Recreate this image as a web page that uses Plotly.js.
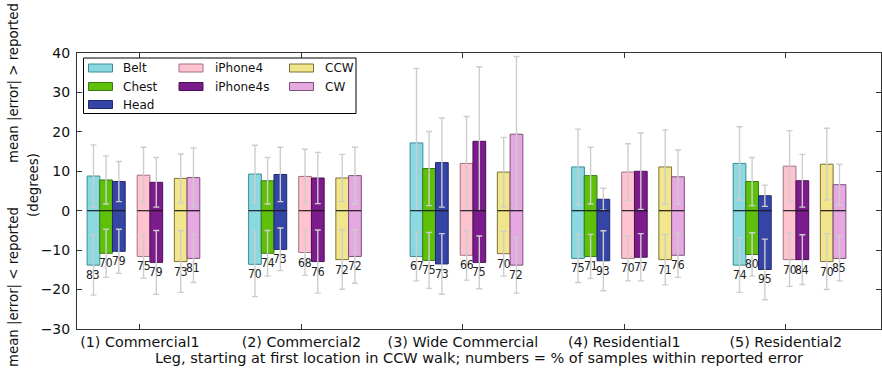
<!DOCTYPE html>
<html>
<head>
<meta charset="utf-8">
<script src="https://cdn.plot.ly/plotly-3.0.1.min.js"></script>
<style>html,body{margin:0;padding:0;background:#fff;}#chart{width:882px;height:378px;}</style>
</head>
<body>
<div id="chart"></div>
<script>
// ---- data ----
const groups = ['(1) Commercial1', '(2) Commercial2', '(3) Wide Commercial', '(4) Residential1', '(5) Residential2'];
const series = ['Belt', 'Chest', 'Head', 'iPhone4', 'iPhone4s', 'CCW', 'CW'];

// mean |error| when error > reported (positive side)
const posBelt     = [8.8, 9.3, 17.2, 11.1, 12.0];
const posChest    = [7.8, 7.6, 10.7, 8.9, 7.4];
const posHead     = [7.4, 9.2, 12.2, 2.9, 3.8];
const posIPhone4  = [9.0, 8.7, 12.0, 9.8, 11.3];
const posIPhone4s = [7.2, 8.3, 17.6, 10.0, 7.6];
const posCCW      = [8.2, 8.3, 9.8, 11.1, 11.8];
const posCW       = [8.4, 8.9, 19.4, 8.6, 6.6];

// spread of the positive side
const posErrBelt     = [7.9, 7.3, 18.9, 9.6, 9.3];
const posErrChest    = [6.1, 5.9, 9.4, 7.2, 6.1];
const posErrHead     = [5.1, 6.9, 11.3, 2.8, 2.7];
const posErrIPhone4  = [7.1, 6.9, 11.9, 7.2, 9.0];
const posErrIPhone4s = [6.3, 6.5, 18.9, 9.7, 6.7];
const posErrCCW      = [6.2, 6.0, 8.8, 9.4, 9.1];
const posErrCW       = [7.5, 7.2, 19.7, 6.8, 5.2];

// mean |error| when error < reported (drawn negative)
const negBelt     = [13.8, 13.6, 11.6, 12.1, 13.8];
const negChest    = [10.8, 10.8, 12.6, 11.6, 11.1];
const negHead     = [10.3, 9.8, 13.5, 12.7, 14.9];
const negIPhone4  = [11.6, 10.6, 11.3, 12.1, 12.4];
const negIPhone4s = [13.1, 12.9, 13.1, 11.8, 12.4];
const negCCW      = [12.9, 12.4, 10.9, 12.4, 12.9];
const negCW       = [12.1, 11.6, 13.8, 11.3, 12.1];

// spread of the negative side
const negErrBelt     = [7.6, 8.2, 6.2, 6.1, 6.9];
const negErrChest    = [6.1, 5.8, 7.1, 5.6, 5.5];
const negErrHead     = [5.6, 5.4, 7.7, 7.6, 7.7];
const negErrIPhone4  = [5.5, 5.8, 6.3, 5.7, 6.8];
const negErrIPhone4s = [8.1, 8.0, 6.7, 6.0, 6.3];
const negErrCCW      = [7.8, 7.5, 5.7, 6.4, 7.1];
const negErrCW       = [6.1, 6.8, 7.1, 5.6, 5.7];

// % of samples within reported error
const pctBelt     = [83, 70, 67, 75, 74];
const pctChest    = [70, 74, 75, 71, 80];
const pctHead     = [79, 73, 73, 93, 95];
const pctIPhone4  = [75, 68, 66, 70, 70];
const pctIPhone4s = [79, 76, 75, 77, 84];
const pctCCW      = [73, 72, 70, 71, 70];
const pctCW       = [81, 72, 72, 76, 85];

// ---- style ----
const fills = ['#8ad9e1', '#5fc00a', '#3445a6', '#ffc2cf', '#7c1c8c', '#f2e68c', '#e6a8e0'];
const edges = ['#3d8c94', '#3a7a12', '#1f2a6e', '#a07482', '#4a1054', '#7e7032', '#7f4f7c'];
const offsets = [-0.287, -0.209, -0.130, 0.023, 0.102, 0.253, 0.332];
const barW = 0.0788;

const posAll = [posBelt, posChest, posHead, posIPhone4, posIPhone4s, posCCW, posCW];
const posErrAll = [posErrBelt, posErrChest, posErrHead, posErrIPhone4, posErrIPhone4s, posErrCCW, posErrCW];
const negAll = [negBelt, negChest, negHead, negIPhone4, negIPhone4s, negCCW, negCW];
const negErrAll = [negErrBelt, negErrChest, negErrHead, negErrIPhone4, negErrIPhone4s, negErrCCW, negErrCW];
const pctAll = [pctBelt, pctChest, pctHead, pctIPhone4, pctIPhone4s, pctCCW, pctCW];

const FONT = 'DejaVu Sans, sans-serif';
const NARROW = 'DejaVu Sans Condensed, DejaVu Sans, sans-serif';
const errStyle = (arr) => ({type: 'data', array: arr, visible: true, color: '#cdcdcd', thickness: 1.4, width: 3});

const traces = [];
const annotations = [];
const shapes = [];
series.forEach((name, s) => {
  const xs = groups.map((g, i) => i + offsets[s]);
  traces.push({
    type: 'bar', name: name, x: xs, y: posAll[s], width: groups.map(() => barW),
    marker: {color: fills[s], line: {color: edges[s], width: 1}},
    error_y: errStyle(posErrAll[s]), showlegend: false, hoverinfo: 'skip'
  });
  traces.push({
    type: 'bar', name: name, x: xs, y: negAll[s].map(v => -v), width: groups.map(() => barW),
    marker: {color: fills[s], line: {color: edges[s], width: 1}},
    error_y: errStyle(negErrAll[s]), showlegend: false, hoverinfo: 'skip'
  });
  groups.forEach((g, i) => {
    // dark zero line across each bar
    shapes.push({type: 'line', xref: 'x', yref: 'y', x0: xs[i] - barW / 2, x1: xs[i] + barW / 2, y0: 0, y1: 0,
      line: {color: '#1a1a1a', width: 1}, layer: 'above'});
    annotations.push({
      x: xs[i], y: -negAll[s][i], xref: 'x', yref: 'y', text: String(pctAll[s][i]),
      showarrow: false, yanchor: 'top', xanchor: 'center', yshift: -1,
      font: {family: NARROW, size: 12, color: '#222'}
    });
  });
});

// ---- layout helpers (pixel -> paper) ----
const L = 77, R = 1, T = 53, B = 49, W = 882, H = 378;
const pw = W - L - R, ph = H - T - B;
const px = (x) => (x - L) / pw;
const py = (y) => 1 - (y - T) / ph;

// legend box
shapes.push({type: 'rect', xref: 'paper', yref: 'paper', x0: px(83.5), x1: px(356), y0: py(113.5), y1: py(58),
  fillcolor: '#ffffff', line: {color: '#000', width: 1}, layer: 'above'});
const legCols = [[0, 1, 2], [3, 4], [5, 6]];
const patchX = [88.5, 179, 289.5];
const textX = [121, 212.5, 323];
const rowY = [68, 86.5, 104.5];
legCols.forEach((col, c) => {
  col.forEach((s, r) => {
    shapes.push({type: 'rect', xref: 'paper', yref: 'paper', x0: px(patchX[c]), x1: px(patchX[c] + 24),
      y0: py(rowY[r] + 4), y1: py(rowY[r] - 4), fillcolor: fills[s], line: {color: edges[s], width: 1}, layer: 'above'});
    annotations.push({xref: 'paper', yref: 'paper', x: px(textX[c]), y: py(rowY[r]), text: series[s],
      showarrow: false, xanchor: 'left', yanchor: 'middle', font: {family: FONT, size: 12, color: '#111'}});
  });
});

// y title pieces
annotations.push({xref: 'paper', yref: 'paper', x: px(14), y: py(83), text: 'mean |error| &gt; reported', textangle: -90,
  showarrow: false, xanchor: 'center', yanchor: 'middle', font: {family: FONT, size: 13.3, color: '#111'}});
annotations.push({xref: 'paper', yref: 'paper', x: px(14), y: py(287), text: 'mean |error| &lt; reported', textangle: -90,
  showarrow: false, xanchor: 'center', yanchor: 'middle', font: {family: FONT, size: 13.3, color: '#111'}});
annotations.push({xref: 'paper', yref: 'paper', x: px(33), y: py(185), text: '(degrees)', textangle: -90,
  showarrow: false, xanchor: 'center', yanchor: 'middle', font: {family: FONT, size: 13.3, color: '#111'}});

const layout = {
  width: W, height: H,
  margin: {l: L, r: R, t: T, b: B, pad: 0},
  paper_bgcolor: '#fff', plot_bgcolor: '#fff',
  barmode: 'overlay', bargap: 0, hovermode: false, showlegend: false,
  font: {family: FONT, size: 14, color: '#111'},
  xaxis: {
    range: [-0.395 + 0.006, 4.589], tickmode: 'array', tickvals: groups.map((g, i) => i), ticktext: groups,
    ticks: 'inside', ticklen: 5, tickcolor: '#333', showline: true, linecolor: '#333', linewidth: 1, mirror: 'ticks',
    showgrid: false, zeroline: false, tickfont: {family: FONT, size: 14.3, color: '#111'},
    title: {text: 'Leg, starting at first location in CCW walk; numbers = % of samples within reported error',
      font: {family: FONT, size: 14.5, color: '#111'}, standoff: 2}
  },
  yaxis: {
    range: [-30, 40], dtick: 10, tick0: 0,
    ticks: 'inside', ticklen: 5, tickcolor: '#333', showline: true, linecolor: '#333', linewidth: 1, mirror: 'ticks',
    showgrid: false, zeroline: false, tickfont: {family: FONT, size: 14, color: '#111'}, ticklabelstandoff: 3
  },
  shapes: shapes,
  annotations: annotations
};

Plotly.newPlot('chart', traces, layout, {staticPlot: true, displayModeBar: false});
</script>
</body>
</html>
